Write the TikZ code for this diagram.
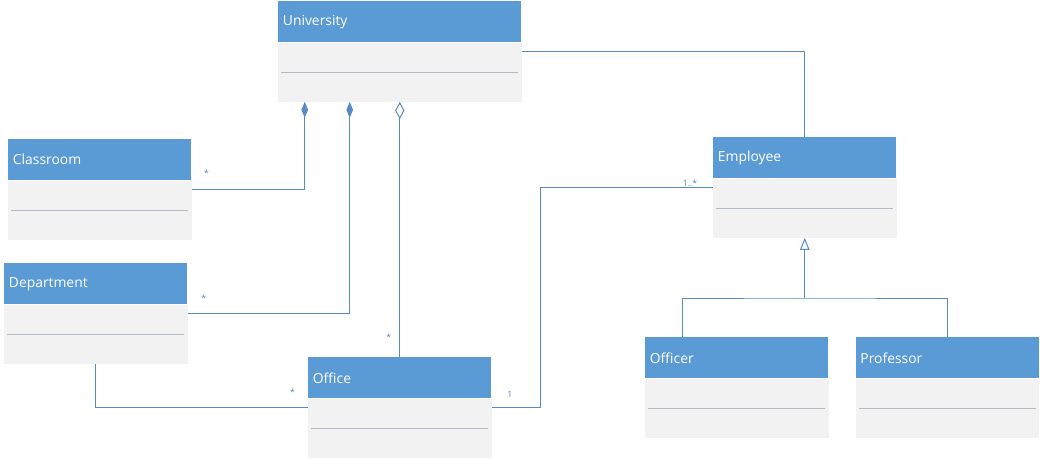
\documentclass[tikz,border=0pt]{standalone}
\usepackage{fontspec}
\setmainfont{Open Sans}
\usepackage{tikz}
\usetikzlibrary{positioning}
\usetikzlibrary{fit,arrows.meta}
\definecolor{umlblue}{HTML}{5B9BD5}
\definecolor{umlgrey}{HTML}{F2F2F2}
\definecolor{umlline}{HTML}{5A8AC6}
\definecolor{umlrule}{HTML}{B2BAC6}
\tikzstyle{class head}=[anchor=north west,fill=umlblue,text=white,inner xsep=3.5pt,inner ysep=0pt,minimum height=30.75pt,text width=130.25pt,align=left,font=\fontsize{10.4}{12}\selectfont]
\tikzstyle{class body}=[fill=umlgrey,inner sep=0pt]
\tikzstyle{class rule}=[umlrule,line width=0.6pt]
\tikzstyle{assoc}=[umlline,line width=0.75pt]
\tikzstyle{composition}=[assoc,-{Diamond[length=12pt,width=5pt]}]
\tikzstyle{aggregation}=[assoc,-{Diamond[open,length=13pt,width=7pt,fill=white]}]
\tikzstyle{inherits}=[assoc,-{Triangle[open,length=9pt,width=7pt,fill=white]}]
\tikzstyle{mult}=[text=umlline,font=\fontsize{6.5}{7}\selectfont,inner sep=0pt,anchor=center]
\newcommand{\classnode}[3][]{
  \node [class head, #1] (#2) {#3};
  \node [class body, fit={(#2.south west) ([yshift=-44.25pt]#2.south east)}] (#2-body) {};
  \draw [class rule] ([xshift=2.5pt]#2-body.west) -- ([xshift=-2.5pt]#2-body.east)
}

\begin{document}
\begin{tikzpicture}[x=0.75pt,y=-0.75pt,node distance=1cm]
        \useasboundingbox (0,0) rectangle (1040,458);
        \classnode[at={(278,1)},text width=175.25pt]{University}{University};
        \classnode[at={(8,139)}]{Classroom}{Classroom};
        \classnode[at={(4,263)}]{Department}{Department};
        \classnode[at={(308,357)}]{Office}{Office};
        \classnode[at={(713,137)}]{Employee}{Employee};
        \classnode[at={(645,337)}]{Officer}{Officer};
        \classnode[right=20.25pt of Officer]{Professor}{Professor};
      \draw[assoc] ([yshift=-6.75pt]University-body.north east) -| (Employee.north);
      \draw[composition] ([yshift=-6.75pt]Classroom-body.north east) node[mult,xshift=11pt,yshift=12pt] {*} -| ([xshift=20.25pt]University-body.south west);
      \draw[composition] ([yshift=-6.75pt]Department-body.north east) node[mult,xshift=12pt,yshift=11.5pt] {*} -| ([xshift=54pt]University-body.south west);
      \draw[aggregation] (Office.north) node[mult,xshift=-8.25pt,yshift=14.5pt] {*} -- (Office.north |- University-body.south);
      \draw[assoc] (Department-body.south) |- ([yshift=-6.75pt]Office-body.north west) node[mult,xshift=-11.5pt,yshift=11pt] {*};
      \draw[assoc] ([yshift=-6.75pt]Office-body.north east) node[mult,xshift=13.5pt,yshift=9.5pt] {1} -- ++(49,0) |- ([yshift=-6.75pt]Employee-body.north west) node[mult,xshift=-17pt,yshift=3pt] {1..*};
      \draw[inherits] (Officer.north -| Employee-body.south) ++(0,-39) coordinate (fork) -- (Employee-body.south);
      \draw[assoc] ([xshift=27.75pt]Officer.north west) |- (fork) -| (Professor.north);
      \end{tikzpicture}
\end{document}
